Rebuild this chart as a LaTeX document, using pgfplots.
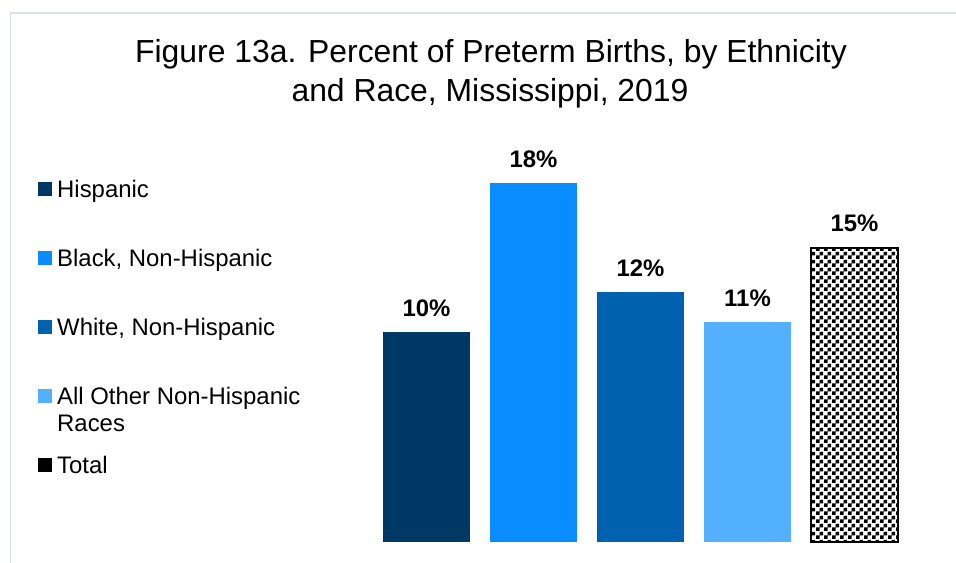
\documentclass[border=0pt]{standalone}
\usepackage{fontspec}
\setmainfont{Liberation Sans}
\usepackage{pgfplots}
\pgfplotsset{compat=1.18}
\usetikzlibrary{patterns}

\definecolor{hisp}{HTML}{003865}
\definecolor{blk}{HTML}{088CFF}
\definecolor{wht}{HTML}{0062AF}
\definecolor{oth}{HTML}{52B0FF}
\definecolor{framecol}{HTML}{DADFE8}

% checkerboard with 4bp squares
\pgfdeclarepatternformonly{checks}{\pgfpointorigin}{\pgfqpoint{8bp}{8bp}}{\pgfqpoint{8bp}{8bp}}{%
  \pgfpathrectangle{\pgfpointorigin}{\pgfqpoint{4bp}{4bp}}%
  \pgfpathrectangle{\pgfqpoint{4bp}{4bp}}{\pgfqpoint{4bp}{4bp}}%
  \pgfusepath{fill}}

\begin{document}
\begin{tikzpicture}[x=1bp,y=1bp]
\path[use as bounding box] (0,0) rectangle (956,563);
% outer frame (cut at right and bottom)
\draw[framecol, line width=1.5bp] (10.5,-5) -- (10.5,550) -- (970,550);

% title
\node[anchor=base, font=\fontsize{32}{38}\selectfont] at (491,563-63) {Figure 13a. Percent of Preterm Births, by Ethnicity};
\node[anchor=base, font=\fontsize{32}{38}\selectfont] at (490,563-102) {and Race, Mississippi, 2019};

% legend
\foreach \c/\yy/\t in {hisp/189/Hispanic, blk/258/{Black, Non-Hispanic}, wht/327/{White, Non-Hispanic}, oth/396/{All Other Non-Hispanic}, black/465/Total}{
  \fill[\c] (38,563-\yy-7) rectangle (52,563-\yy+7);
  \node[anchor=base west, inner sep=0pt, font=\fontsize{24}{28}\selectfont] at (57,563-\yy-8.5) {\t};
}
\node[anchor=base west, inner sep=0pt, font=\fontsize{24}{28}\selectfont] at (57,563-431.5) {Races};

\begin{axis}[
    at={(373bp,21bp)}, anchor=south west,
    scale only axis,
    width=535bp, height=403bp,
    xmin=-0.5, xmax=4.5,
    ymin=0, ymax=20,
    hide axis,
    ybar,
    bar width=87bp,
    nodes near coords={\pgfmathprintnumber[fixed,precision=0,assume math mode=true]{\pgfplotspointmeta}\%},
    nodes near coords style={font=\bfseries\fontsize{24}{28}\selectfont, black, anchor=south, inner sep=0pt, yshift=15bp},
    clip=false,
]
\addplot[bar shift=0pt, fill=hisp, draw=none] coordinates {(0,10.4)};
\addplot[bar shift=0pt, fill=blk, draw=none] coordinates {(1,17.8)};
\addplot[bar shift=0pt, fill=wht, draw=none] coordinates {(2,12.4)};
\addplot[bar shift=0pt, fill=oth, draw=none] coordinates {(3,10.9)};
\addplot[bar shift=0pt, pattern=checks, draw=black, line width=1.5bp] coordinates {(4,14.6)};
\end{axis}
\end{tikzpicture}
\end{document}
